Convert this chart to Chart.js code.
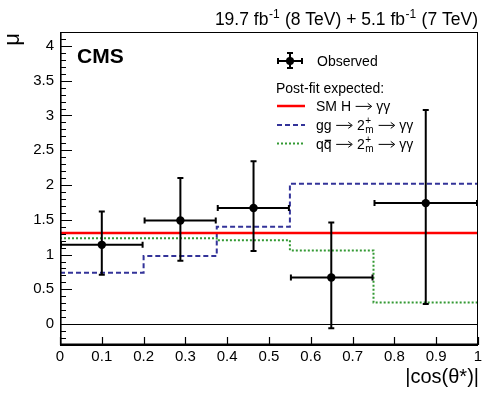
<!DOCTYPE html>
<html>
<head>
<meta charset="utf-8">
<script src="https://cdn.jsdelivr.net/npm/chart.js@4"></script>
<style>
  html, body { margin: 0; padding: 0; background: #fff; }
</style>
</head>
<body>
<canvas id="muChart" width="498" height="397"></canvas>
<script>
// bins in |cos(theta*)|
const binEdges = [0, 0.2, 0.375, 0.55, 0.75, 1.0];
// observed signal strength
const obsX = [0.1, 0.288, 0.463, 0.649, 0.875];
const obsMu = [1.14, 1.49, 1.67, 0.67, 1.74];
const obsHigh = [1.62, 2.10, 2.34, 1.46, 3.08];
const obsLow = [0.71, 0.91, 1.05, -0.06, 0.29];
// post-fit expectations
const smMu = [1.31, 1.31];
const ggMu = [0.74, 0.98, 1.40, 2.02, 2.02];
const qqMu = [1.235, 1.235, 1.205, 1.06, 0.31];
// tick labels
const xTicks = [0, 0.1, 0.2, 0.3, 0.4, 0.5, 0.6, 0.7, 0.8, 0.9, 1];
const yTicks = [0, 0.5, 1, 1.5, 2, 2.5, 3, 3.5, 4];

const FONT = "'Liberation Sans', Arial, Helvetica, sans-serif";

const stepPoints = (vals) =>
  binEdges.map((e, i) => ({ x: e, y: vals[Math.min(i, vals.length - 1)] }));

// text with super/subscripts and long arrows: parts = [{t}, {sup, sub}, {arrow}]
function drawRich(ctx, parts, x, y, size, align) {
  const small = Math.round(size * 0.68);
  const arrowW = size * 1.15;
  const gap = size * 0.33;
  const widthOf = (p) => {
    if (p.arrow) return arrowW + gap * 2;
    if (p.t !== undefined) { ctx.font = `${size}px ${FONT}`; return ctx.measureText(p.t).width; }
    ctx.font = `${small}px ${FONT}`;
    return Math.max(ctx.measureText(p.sup || "").width, ctx.measureText(p.sub || "").width) + 1;
  };
  const total = parts.reduce((s, p) => s + widthOf(p), 0);
  let cx = align === "right" ? x - total : x;
  ctx.textAlign = "left";
  for (const p of parts) {
    const w = widthOf(p);
    if (p.arrow) {
      const ay = y - size * 0.33;
      const x0 = cx + gap, x1 = x0 + arrowW;
      ctx.save();
      ctx.strokeStyle = ctx.fillStyle;
      ctx.lineWidth = 1;
      ctx.beginPath();
      ctx.moveTo(x0, ay); ctx.lineTo(x1 - 1, ay);
      ctx.moveTo(x1 - 4, ay - 3); ctx.lineTo(x1, ay); ctx.lineTo(x1 - 4, ay + 3);
      ctx.stroke();
      ctx.restore();
    } else if (p.t !== undefined) {
      ctx.font = `${size}px ${FONT}`;
      ctx.fillText(p.t, cx, y);
      if (p.bar) {
        const lw = ctx.measureText(p.t.slice(-1)).width;
        ctx.fillRect(cx + w - lw + 1, y - size * 0.66, lw - 1.5, 1.2);
      }
    } else {
      ctx.font = `${small}px ${FONT}`;
      if (p.sup) ctx.fillText(p.sup, cx + 0.5, y - size * 0.42);
      if (p.sub) ctx.fillText(p.sub, cx + 0.5, y + size * 0.2);
    }
    cx += w;
  }
}

const decorPlugin = {
  id: "decor",
  beforeDatasetsDraw(chart) {
    const { ctx, chartArea: a, scales: { y } } = chart;
    ctx.save();
    // zero line
    ctx.strokeStyle = "#000";
    ctx.lineWidth = 1;
    ctx.beginPath();
    ctx.moveTo(a.left, Math.round(y.getPixelForValue(0)) + 0.5);
    ctx.lineTo(a.right, Math.round(y.getPixelForValue(0)) + 0.5);
    ctx.stroke();
    ctx.restore();
  },
  afterDatasetsDraw(chart) {
    const { ctx, chartArea: a, scales: { x, y } } = chart;
    ctx.save();
    // observed points with error bars
    ctx.strokeStyle = "#000";
    ctx.fillStyle = "#000";
    ctx.lineWidth = 2;
    obsX.forEach((xv, i) => {
      const px = x.getPixelForValue(xv);
      const py = y.getPixelForValue(obsMu[i]);
      const hi = y.getPixelForValue(obsHigh[i]);
      const lo = Math.min(y.getPixelForValue(obsLow[i]), a.bottom);
      const l = x.getPixelForValue(binEdges[i]);
      const r = x.getPixelForValue(binEdges[i + 1]);
      ctx.beginPath();
      ctx.moveTo(px, hi); ctx.lineTo(px, lo);
      ctx.moveTo(px - 3, hi); ctx.lineTo(px + 3, hi);
      ctx.moveTo(px - 3, lo); ctx.lineTo(px + 3, lo);
      ctx.moveTo(l, py); ctx.lineTo(r, py);
      ctx.moveTo(l + 1, py - 3); ctx.lineTo(l + 1, py + 3);
      ctx.moveTo(r - 1, py - 3); ctx.lineTo(r - 1, py + 3);
      ctx.stroke();
      ctx.beginPath();
      ctx.arc(px, py, 4.2, 0, Math.PI * 2);
      ctx.fill();
    });
    ctx.restore();
  },
  afterDraw(chart) {
    const { ctx, chartArea: a, scales: { x, y } } = chart;
    ctx.save();
    // frame
    ctx.strokeStyle = "#000";
    ctx.lineWidth = 1;
    ctx.strokeRect(a.left + 0.5, a.top + 0.5, a.right - a.left - 1, a.bottom - a.top);
    ctx.lineWidth = 1.6;
    ctx.beginPath();
    ctx.moveTo(a.left + 0.8, a.top); ctx.lineTo(a.left + 0.8, a.bottom);
    ctx.moveTo(a.left, a.bottom - 0.8); ctx.lineTo(a.right, a.bottom - 0.8);
    ctx.stroke();
    // ticks inside the frame
    ctx.lineWidth = 1.2;
    ctx.beginPath();
    xTicks.forEach((v) => {
      const px = Math.round(x.getPixelForValue(v)) + 0.5;
      ctx.moveTo(px, a.bottom); ctx.lineTo(px, a.bottom - 8);
    });
    for (let k = -2; k <= 42; k++) {
      const py = Math.round(y.getPixelForValue(k / 10)) + 0.5;
      const len = k % 5 === 0 ? 12 : 6;
      ctx.moveTo(a.left, py); ctx.lineTo(a.left + len, py);
    }
    ctx.stroke();

    ctx.fillStyle = "#000";
    ctx.textBaseline = "alphabetic";
    // luminosity label
    drawRich(ctx, [
      { t: "19.7 fb" }, { sup: "-1" }, { t: " (8 TeV) + 5.1 fb" }, { sup: "-1" }, { t: " (7 TeV)" }
    ], 478, 25, 17.5, "right");

    ctx.font = `bold 21px ${FONT}`;
    ctx.textAlign = "left";
    ctx.fillText("CMS", 77, 63);

    // axis titles
    ctx.font = `20px ${FONT}`;
    ctx.textAlign = "right";
    ctx.fillText("|cos(\u03B8*)|", 479, 383);
    ctx.save();
    ctx.translate(19, 33);
    ctx.rotate(-Math.PI / 2);
    ctx.font = `22px ${FONT}`;
    ctx.textAlign = "right";
    ctx.fillText("\u03BC", 0, 0);
    ctx.restore();

    // legend
    ctx.strokeStyle = "#000";
    ctx.lineWidth = 2;
    ctx.beginPath();
    ctx.moveTo(277, 61); ctx.lineTo(303, 61);
    ctx.moveTo(278, 58); ctx.lineTo(278, 64);
    ctx.moveTo(302, 58); ctx.lineTo(302, 64);
    ctx.moveTo(290, 53); ctx.lineTo(290, 68);
    ctx.moveTo(287, 53); ctx.lineTo(293, 53);
    ctx.moveTo(287, 68); ctx.lineTo(293, 68);
    ctx.stroke();
    ctx.beginPath();
    ctx.arc(290, 61, 4, 0, Math.PI * 2);
    ctx.fill();
    ctx.font = `14px ${FONT}`;
    ctx.textAlign = "left";
    ctx.textBaseline = "middle";
    ctx.fillText("Observed", 317, 62);
    ctx.fillText("Post-fit expected:", 276, 89);

    const rows = [
      { yy: 106, color: "#ff0000", dash: [], w: 2.5 },
      { yy: 125, color: "#333399", dash: [5, 3], w: 2 },
      { yy: 143.5, color: "#339933", dash: [2, 2], w: 2 },
    ];
    rows.forEach((r) => {
      ctx.strokeStyle = r.color;
      ctx.lineWidth = r.w;
      ctx.setLineDash(r.dash);
      ctx.beginPath();
      ctx.moveTo(277, r.yy); ctx.lineTo(305, r.yy);
      ctx.stroke();
    });
    ctx.setLineDash([]);
    ctx.textBaseline = "alphabetic";
    const arrow = { arrow: true };
    const twoM = { sup: "+", sub: "m" };
    drawRich(ctx, [{ t: "SM H" }, arrow, { t: "\u03B3\u03B3" }], 316, 111, 14, "left");
    drawRich(ctx, [{ t: "gg" }, arrow, { t: "2" }, twoM, arrow, { t: "\u03B3\u03B3" }], 316, 130, 14, "left");
    drawRich(ctx, [{ t: "qq", bar: true }, arrow, { t: "2" }, twoM, arrow, { t: "\u03B3\u03B3" }], 316, 149, 14, "left");
    ctx.restore();
  },
};

const ctx = document.getElementById("muChart").getContext("2d");

new Chart(ctx, {
  type: "line",
  data: {
    datasets: [
      {
        label: "SM H",
        data: [{ x: 0, y: smMu[0] }, { x: 1, y: smMu[1] }],
        borderColor: "#ff0000",
        borderWidth: 2.5,
        pointRadius: 0,
        fill: false,
      },
      {
        label: "gg spin 2",
        data: stepPoints(ggMu),
        borderColor: "#333399",
        borderWidth: 2,
        borderDash: [5, 3],
        stepped: "before",
        pointRadius: 0,
        fill: false,
      },
      {
        label: "qqbar spin 2",
        data: stepPoints(qqMu),
        borderColor: "#339933",
        borderWidth: 2,
        borderDash: [2, 2],
        stepped: "before",
        pointRadius: 0,
        fill: false,
      },
    ],
  },
  options: {
    responsive: false,
    animation: false,
    devicePixelRatio: 1,
    layout: { padding: { top: 32, right: 20, left: 0, bottom: 0 } },
    plugins: { legend: { display: false }, tooltip: { enabled: false } },
    scales: {
      x: {
        type: "linear",
        min: 0,
        max: 1,
        grid: { display: false, drawTicks: false },
        border: { display: false },
        afterBuildTicks: (s) => { s.ticks = xTicks.map((v) => ({ value: v })); },
        afterFit: (s) => { s.height = 52; },
        ticks: {
          font: { family: FONT, size: 15 },
          color: "#000",
          padding: 3,
          maxRotation: 0,
          autoSkip: false,
          callback: (v) => String(v),
        },
      },
      y: {
        type: "linear",
        min: -0.3,
        max: 4.2,
        grid: { display: false, drawTicks: false },
        border: { display: false },
        afterBuildTicks: (s) => { s.ticks = yTicks.map((v) => ({ value: v })); },
        afterFit: (s) => { s.width = 60; },
        ticks: {
          font: { family: FONT, size: 15 },
          color: "#000",
          padding: 6,
          autoSkip: false,
          callback: (v) => String(v),
        },
      },
    },
  },
  plugins: [decorPlugin],
});
</script>
</body>
</html>
